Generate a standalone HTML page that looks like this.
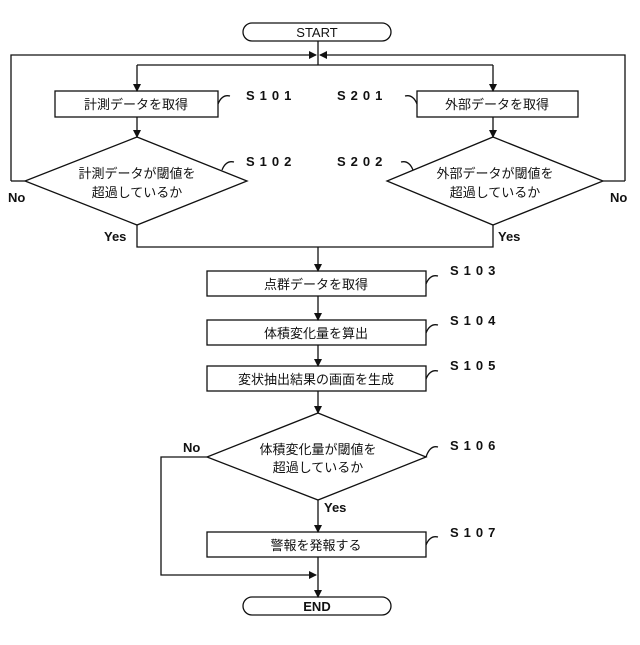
<!DOCTYPE html>
<html><head><meta charset="utf-8"><style>
html,body{margin:0;padding:0;background:#fff;}
svg text{font-family:"Liberation Sans","Noto Sans CJK JP",sans-serif;fill:#111;}
</style></head><body>
<svg width="640" height="640" viewBox="0 0 640 640" xmlns="http://www.w3.org/2000/svg">
<defs><marker id="a" markerWidth="8" markerHeight="8" refX="7" refY="4" orient="auto" markerUnits="userSpaceOnUse"><path d="M0,0 L8,4 L0,8 z" fill="#111"/></marker></defs>
<g stroke="#111" stroke-width="1.3" fill="none">
<rect x="243" y="23" width="148" height="18" rx="9"/>
<rect x="243" y="597" width="148" height="18" rx="9"/>
<line x1="318" y1="41" x2="318" y2="65"/>
<polyline points="11,181 11,55 316,55" marker-end="url(#a)"/>
<polyline points="625,181 625,55 320,55" marker-end="url(#a)"/>
<line x1="137" y1="65" x2="493" y2="65"/>
<line x1="137" y1="65" x2="137" y2="91" marker-end="url(#a)"/>
<line x1="493" y1="65" x2="493" y2="91" marker-end="url(#a)"/>
<rect x="55" y="91" width="163" height="26"/>
<rect x="417" y="91" width="161" height="26"/>
<line x1="137" y1="117" x2="137" y2="137" marker-end="url(#a)"/>
<line x1="493" y1="117" x2="493" y2="137" marker-end="url(#a)"/>
<polygon points="137,137 247,181 137,225 25,181"/>
<polygon points="493,137 603,181 493,225 387,181"/>
<line x1="11" y1="181" x2="25" y2="181"/>
<line x1="603" y1="181" x2="625" y2="181"/>
<polyline points="137,225 137,247 493,247 493,225"/>
<line x1="318" y1="247" x2="318" y2="271" marker-end="url(#a)"/>
<rect x="207" y="271" width="219" height="25"/>
<line x1="318" y1="296" x2="318" y2="320" marker-end="url(#a)"/>
<rect x="207" y="320" width="219" height="25"/>
<line x1="318" y1="345" x2="318" y2="366" marker-end="url(#a)"/>
<rect x="207" y="366" width="219" height="25"/>
<line x1="318" y1="391" x2="318" y2="413" marker-end="url(#a)"/>
<polygon points="318,413 426,457 318,500 207,457"/>
<line x1="318" y1="500" x2="318" y2="532" marker-end="url(#a)"/>
<rect x="207" y="532" width="219" height="25"/>
<line x1="318" y1="557" x2="318" y2="597" marker-end="url(#a)"/>
<polyline points="207,457 161,457 161,575 316,575" marker-end="url(#a)"/>
<path d="M218,104 q4,-10 12,-8"/>
<path d="M417,104 q-4,-10 -12,-8"/>
<path d="M222,170 q4,-10 12,-8"/>
<path d="M413,170 q-4,-10 -12,-8"/>
<path d="M426,284 q4,-10 12,-8"/>
<path d="M426,333 q4,-10 12,-8"/>
<path d="M426,379 q4,-10 12,-8"/>
<path d="M426,457 q4,-12 12,-10"/>
<path d="M426,545 q4,-10 12,-8"/>
</g>
<g font-size="13" text-anchor="middle">
<text x="317" y="37">START</text>
<text x="317" y="611" font-weight="bold">END</text>
<text x="136" y="109">計測データを取得</text>
<text x="497" y="109">外部データを取得</text>
<text x="137" y="178">計測データが閾値を</text>
<text x="137" y="197">超過しているか</text>
<text x="495" y="178">外部データが閾値を</text>
<text x="495" y="197">超過しているか</text>
<text x="316" y="289">点群データを取得</text>
<text x="316" y="338">体積変化量を算出</text>
<text x="316" y="384">変状抽出結果の画面を生成</text>
<text x="318" y="454">体積変化量が閾値を</text>
<text x="318" y="472">超過しているか</text>
<text x="316" y="550">警報を発報する</text>
</g>
<g font-size="13" font-weight="bold">
<text x="8" y="202">No</text>
<text x="610" y="202">No</text>
<text x="104" y="241">Yes</text>
<text x="498" y="241">Yes</text>
<text x="183" y="452">No</text>
<text x="324" y="512">Yes</text>
</g>
<g font-size="13" font-weight="bold" letter-spacing="5">
<text x="246" y="100">S101</text>
<text x="337" y="100">S201</text>
<text x="246" y="166">S102</text>
<text x="337" y="166">S202</text>
<text x="450" y="275">S103</text>
<text x="450" y="325">S104</text>
<text x="450" y="370">S105</text>
<text x="450" y="450">S106</text>
<text x="450" y="537">S107</text>
</g>
</svg>
</body></html>
